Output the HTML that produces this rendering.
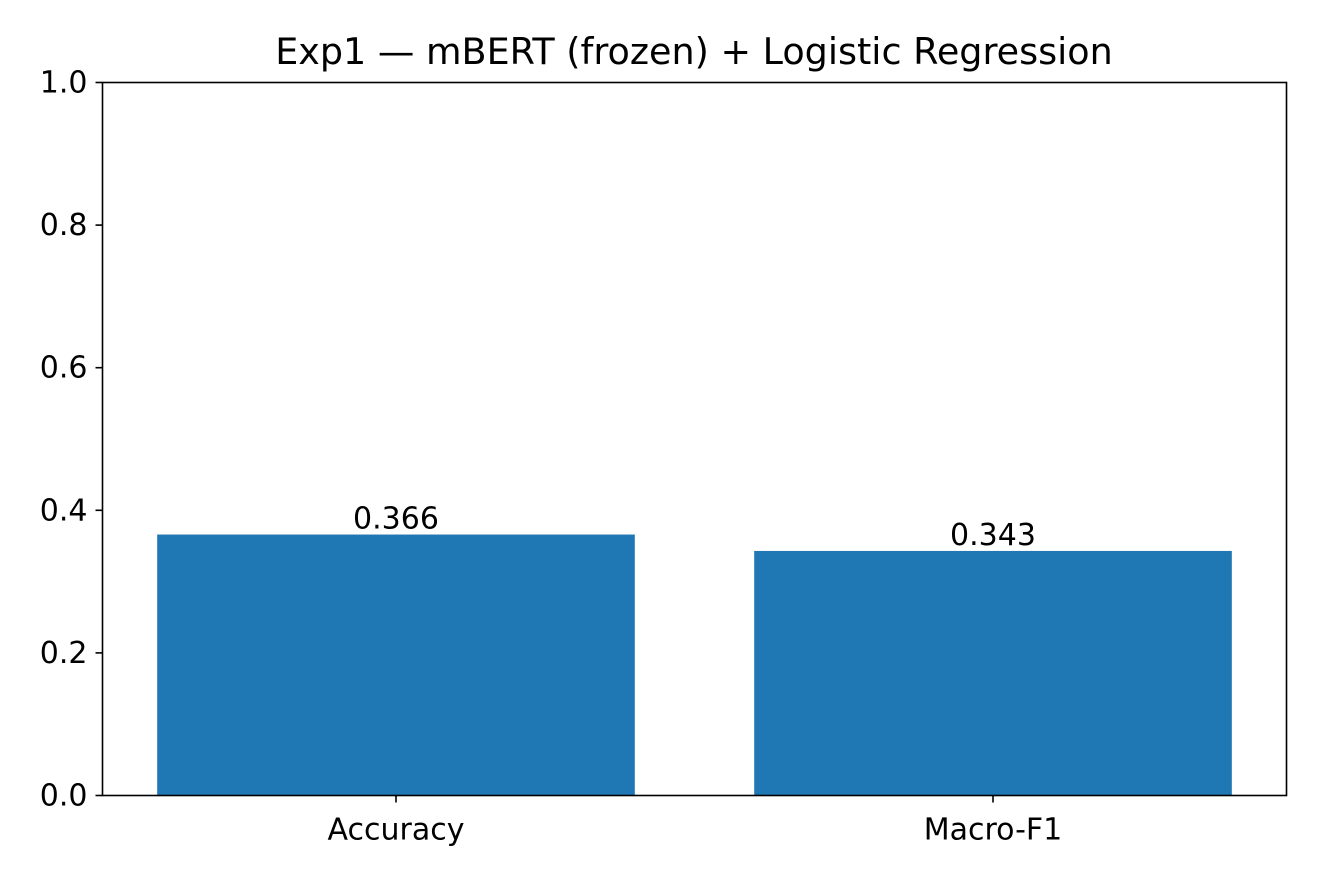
<!DOCTYPE html>
<html><head><meta charset="utf-8">
<style>
html,body{margin:0;padding:0;background:#fff;}
svg{display:block;font-family:"DejaVu Sans","Liberation Sans",sans-serif;}
</style></head>
<body>
<svg id="chart" width="1320" height="880">
<text x="694" y="64" text-anchor="middle" font-size="36.5" fill="#000">Exp1 — mBERT (frozen) + Logistic Regression</text>
<g id="bars"></g>
<g id="yticks"></g>
<g id="xticks"></g>
<rect x="102.5" y="82.5" width="1184" height="713" fill="none" stroke="#000" stroke-width="1.6"/>
</svg>
<script>
const categories = ["Accuracy", "Macro-F1"];
const values = [0.366, 0.343];
const valueLabels = ["0.366", "0.343"];
const yTicks = [0.0, 0.2, 0.4, 0.6, 0.8, 1.0];
const yTickLabels = ["0.0", "0.2", "0.4", "0.6", "0.8", "1.0"];

const L = 102.5, R = 1286.5, T = 82.5, B = 795.5;
const xmin = -0.4916, xmax = 1.4916;
function xs(v){ return L + (v - xmin) / (xmax - xmin) * (R - L); }
function ys(v){ return B - v * (B - T); }
const NS = "http://www.w3.org/2000/svg";
function mk(tag, attrs){ const e = document.createElementNS(NS, tag); for (const k in attrs) e.setAttribute(k, attrs[k]); return e; }

const gb = document.getElementById('bars');
categories.forEach((c, i) => {
  const x0 = xs(i - 0.4), x1 = xs(i + 0.4);
  const r = mk('rect', {x: x0, y: ys(values[i]), width: x1 - x0, height: ys(0) - ys(values[i]), fill: '#1f77b4'});
  
  
  gb.appendChild(r);
  const t = mk('text', {x: xs(i), y: ys(values[i]) - 6, 'text-anchor': 'middle', 'font-size': '30', fill: '#000'});
  t.textContent = valueLabels[i];
  
  
  gb.appendChild(t);
});

const gy = document.getElementById('yticks');
yTicks.forEach((v, i) => {
  const l = mk('line', {x1: L - 7, x2: L, y1: ys(v), y2: ys(v), stroke: '#000', 'stroke-width': 1.6});
  
  
  gy.appendChild(l);
  const t = mk('text', {x: L - 15, y: ys(v) + 10, 'text-anchor': 'end', 'font-size': '30', fill: '#000'});
  t.textContent = yTickLabels[i];
  
  
  gy.appendChild(t);
});

const gx = document.getElementById('xticks');
categories.forEach((c, i) => {
  const l = mk('line', {x1: xs(i), x2: xs(i), y1: B, y2: B + 7, stroke: '#000', 'stroke-width': 1.6});
  
  
  gx.appendChild(l);
  const t = mk('text', {x: xs(i), y: B + 44, 'text-anchor': 'middle', 'font-size': '30', fill: '#000'});
  t.textContent = c;
  
  
  gx.appendChild(t);
});
</script>
</body></html>
